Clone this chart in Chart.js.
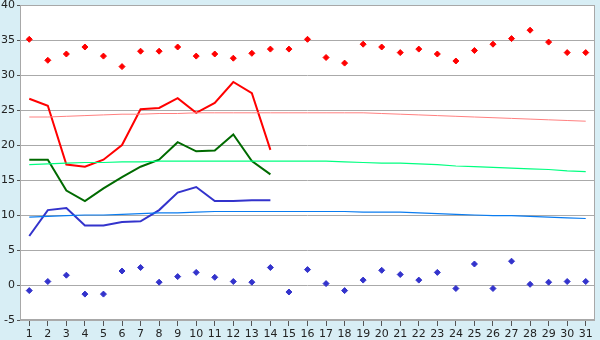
<!DOCTYPE html>
<html>
<head>
<meta charset="utf-8">
<script src="https://cdn.jsdelivr.net/npm/chart.js@4/dist/chart.umd.min.js"></script>
<style>
html,body{margin:0;padding:0;background:#d8eef5;}
canvas{display:block;}
</style>
</head>
<body>
<canvas id="c" width="600" height="340"></canvas>
<script>
const days = ['1','2','3','4','5','6','7','8','9','10','11','12','13','14','15','16','17','18','19','20','21','22','23','24','25','26','27','28','29','30','31'];
const yTicks = [-5, 0, 5, 10, 15, 20, 25, 30, 35, 40];

const recordMax = [35.1,32.1,33.0,34.0,32.7,31.2,33.4,33.4,34.0,32.7,33.0,32.4,33.1,33.7,33.7,35.1,32.5,31.7,34.4,34.0,33.2,33.7,33.0,32.0,33.5,34.4,35.2,36.4,34.7,33.2,33.2];
const recordMin = [-0.8,0.5,1.4,-1.3,-1.3,2.0,2.5,0.4,1.2,1.8,1.1,0.5,0.4,2.5,-1.0,2.2,0.2,-0.8,0.7,2.1,1.5,0.7,1.8,-0.5,3.0,-0.5,3.4,0.1,0.4,0.5,0.5];

const dailyMax = [26.6,25.6,17.2,16.9,17.9,20.0,25.1,25.3,26.7,24.6,26.0,29.0,27.4,19.3];
const dailyMean = [17.9,17.9,13.5,12.0,13.8,15.4,16.9,17.9,20.4,19.1,19.2,21.5,17.7,15.8];
const dailyMin = [7.0,10.7,11.0,8.5,8.5,9.0,9.1,10.7,13.2,14.0,12.0,12.0,12.1,12.1];

const normalMax = [24.0,24.0,24.1,24.2,24.3,24.4,24.4,24.5,24.5,24.6,24.6,24.6,24.6,24.6,24.6,24.6,24.6,24.6,24.6,24.5,24.4,24.3,24.2,24.1,24.0,23.9,23.8,23.7,23.6,23.5,23.4];
const normalMean = [17.2,17.3,17.4,17.5,17.5,17.6,17.6,17.7,17.7,17.7,17.7,17.7,17.7,17.7,17.7,17.7,17.7,17.6,17.5,17.4,17.4,17.3,17.2,17.0,16.9,16.8,16.7,16.6,16.5,16.3,16.2];
const normalMin = [9.7,9.8,9.9,10.0,10.0,10.1,10.2,10.3,10.3,10.4,10.5,10.5,10.5,10.5,10.5,10.5,10.5,10.5,10.4,10.4,10.4,10.3,10.2,10.1,10.0,9.9,9.9,9.8,9.7,9.6,9.5];

const bgPlugin = {
  id: 'bg',
  beforeDraw(chart) {
    const {ctx, chartArea: a, width, height} = chart;
    ctx.save();
    ctx.fillStyle = '#d8eef5';
    ctx.fillRect(0, 0, width, height);
    ctx.fillStyle = '#ffffff';
    ctx.fillRect(a.left, a.top, a.right - a.left, a.bottom - a.top);
    ctx.restore();
  },
  afterDatasetsDraw(chart) {
    const {ctx, chartArea: a} = chart;
    ctx.save();
    ctx.strokeStyle = '#a8a8a8';
    ctx.lineWidth = 1;
    ctx.strokeRect(Math.round(a.left) + 0.5, Math.round(a.top) + 0.5, Math.round(a.right - a.left) - 1, Math.round(a.bottom - a.top) - 1);
    ctx.restore();
  }
};

function lineDs(data, color, width) {
  return {type: 'line', data, borderColor: color, backgroundColor: color, borderWidth: width, pointRadius: 0, tension: 0, fill: false};
}
function dotDs(data, color) {
  return {type: 'line', data, showLine: false, borderColor: color, backgroundColor: color, pointStyle: 'rectRot', pointRadius: 3, pointBorderWidth: 1};
}

new Chart(document.getElementById('c'), {
  type: 'line',
  data: {
    labels: days,
    datasets: [
      lineDs(normalMax, '#ff8080', 1),
      lineDs(normalMean, '#00ff80', 1.2),
      lineDs(normalMin, '#0a7cf0', 1.2),
      lineDs(dailyMax, '#ff0000', 2),
      lineDs(dailyMean, '#006a00', 2),
      lineDs(dailyMin, '#3333cc', 2),
      dotDs(recordMax, '#ff0000'),
      dotDs(recordMin, '#3333cc')
    ]
  },
  options: {
    responsive: false,
    animation: false,
    devicePixelRatio: 1,
    layout: {padding: {top: 5, right: 5, left: 0, bottom: 0}},
    plugins: {legend: {display: false}, tooltip: {enabled: false}},
    scales: {
      x: {
        offset: true,
        grid: {drawOnChartArea: false, drawTicks: true, tickLength: 6, color: '#555'},
        border: {display: false},
        ticks: {padding: 2, maxRotation: 0, autoSkip: false, color: '#222', font: {family: 'DejaVu Sans', size: 11}},
        afterFit(s) { s.height = 20; s.paddingLeft = 0; s.paddingRight = 0; }
      },
      y: {
        min: -5, max: 40,
        afterBuildTicks(s) { s.ticks = yTicks.map(v => ({value: v})); },
        grid: {color: '#aaaaaa', tickLength: 3, tickColor: '#555'},
        border: {display: false},
        ticks: {padding: 2, color: '#222', font: {family: 'DejaVu Sans', size: 11}},
        afterFit(s) { s.width = 20; s.paddingTop = 0; s.paddingBottom = 0; }
      }
    }
  },
  plugins: [bgPlugin]
});
</script>
</body>
</html>
